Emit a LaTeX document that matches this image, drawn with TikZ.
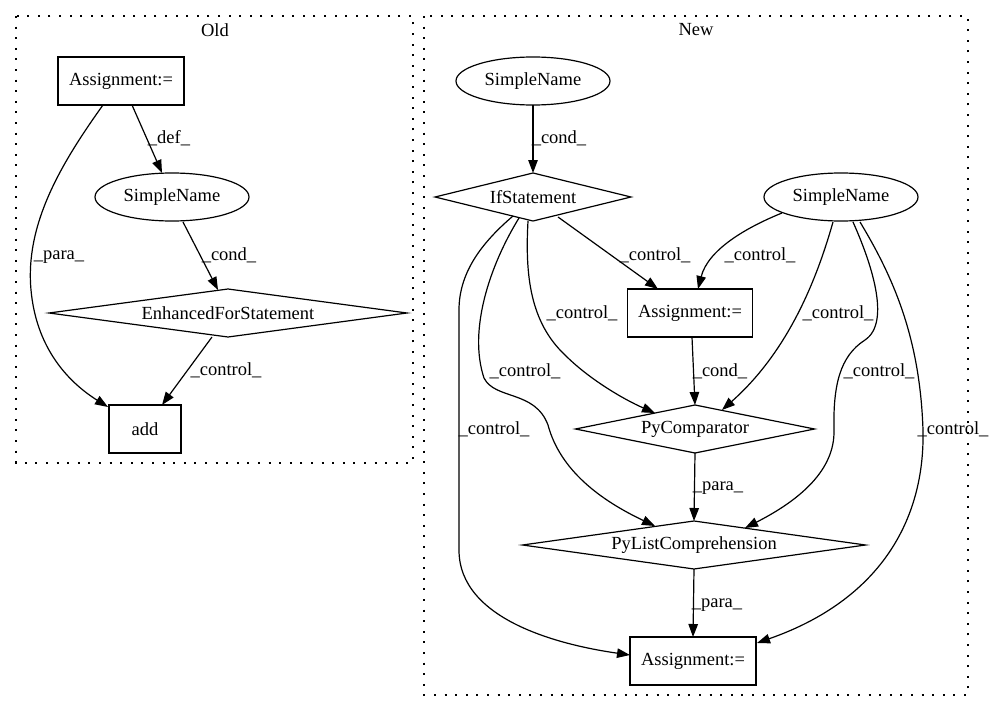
\documentclass[tikz,border=0pt]{standalone}
\usepackage{fontspec}
\setmainfont{Liberation Serif}
\usetikzlibrary{shapes.geometric,arrows.meta}
\tikzset{
  every node/.style={font=\fontsize{18.5}{22}\selectfont, inner sep=0pt, outer sep=0pt},
  boxnode/.style={draw, line width=1.2pt, rectangle, minimum height=48pt},
  ellnode/.style={draw, line width=1.2pt, ellipse, minimum width=154pt, minimum height=48pt},
  dianode/.style={draw, line width=1.2pt, diamond, minimum height=48pt},
  edge/.style={line width=1.2pt, -{Triangle[length=13pt,width=9.5pt]}},
  cluster/.style={line width=1.3pt, dash pattern=on 2pt off 8.6pt},
  lbl/.style={}
}
\begin{document}
\begin{tikzpicture}[x=1pt,y=-1pt]
\useasboundingbox (0,0) rectangle (997,712);
% clusters
\draw[cluster] (16,16) rectangle (413,463);
\node[lbl] (oldlbl) at (215,30) {Old};
\draw[cluster] (424,16) rectangle (968,695);
\node[lbl] (newlbl) at (696,30) {New};

% Old nodes
\node[boxnode, minimum width=126pt] (oa) at (121,81) {Assignment:=};
\node[ellnode] (osn) at (172,197) {SimpleName};
\node[dianode, minimum width=358pt, aspect=7.5] (oefs) at (228,313) {EnhancedForStatement};
\node[boxnode, minimum width=72pt] (oadd) at (145,429) {add};

% Old edges
\draw[edge] ([shift={(11,24)}]oa.center) -- ([shift={(-10,-24)}]osn.center);
\node[lbl] (ldef) at (169,138) {\_def\_};
\draw[edge] ([shift={(-18,24)}]oa.center) .. controls (60,165) and (25,225) .. (31,290)
  .. controls (36,345) and (65,380) .. ([shift={(-37,-22)}]oadd.center);
\node[lbl] (lpara) at (59,257) {\_para\_};
\draw[edge] ([shift={(11,25)}]osn.center) -- ([shift={(-10,-23)}]oefs.center);
\node[lbl] (lcond) at (229,255) {\_cond\_};
\draw[edge] ([shift={(-16,24)}]oefs.center) -- ([shift={(17,-24)}]oadd.center);
\node[lbl] (lctl) at (226,370) {\_control\_};

% New nodes
\node[ellnode] (nsn1) at (533,81) {SimpleName};
\node[dianode, minimum width=196pt, aspect=4.08] (nif) at (533,197) {IfStatement};
\node[ellnode] (nsn2) at (841,197) {SimpleName};
\node[boxnode, minimum width=125pt] (nma) at (690,313) {Assignment:=};
\node[dianode, minimum width=239pt, aspect=5] (npc) at (695,429) {PyComparator};
\node[dianode, minimum width=343pt, aspect=7.1] (nplc) at (694,545) {PyListComprehension};
\node[boxnode, minimum width=126pt] (nba) at (693,661) {Assignment:=};

% New edges
\draw[edge] (nsn1.south) -- (nif.north);
\node[lbl] (ncond1) at (559,138) {\_cond\_};

% IfStatement -> bottom Assignment
\draw[edge] ([shift={(-20,19)}]nif.center) .. controls (485,240) and (459,270) .. (459,310)
  -- (459,550) .. controls (459,620) and (560,645) .. ([shift={(-63,-6)}]nba.center);
\node[lbl] (nl1) at (494,429) {\_control\_};
% IfStatement -> PyListComprehension
\draw[edge] ([shift={(-14,21)}]nif.center) .. controls (490,265) and (468,330) .. (484,378)
  .. controls (495,400) and (535,390) .. (548,425)
  .. controls (560,470) and (600,500) .. ([shift={(-39,-19)}]nplc.center);
\node[lbl] (nl2) at (525,371) {\_control\_};
% IfStatement -> PyComparator
\draw[edge] ([shift={(-5,24)}]nif.center) .. controls (525,275) and (530,322) .. (565,355)
  .. controls (590,380) and (625,400) .. ([shift={(-40,-16)}]npc.center);
\node[lbl] (nl3) at (582,313) {\_control\_};
% IfStatement -> mid Assignment
\draw[edge] ([shift={(25,20)}]nif.center) -- ([shift={(-32,-24)}]nma.center);
\node[lbl] (nl4) at (655,255) {\_control\_};

% SimpleName2 -> mid Assignment
\draw[edge] ([shift={(-59,16)}]nsn2.center) .. controls (745,228) and (708,250) .. ([shift={(8,-24)}]nma.center);
\node[lbl] (nl5) at (760,255) {\_control\_};
% SimpleName2 -> PyComparator
\draw[edge] ([shift={(-8,25)}]nsn2.center) .. controls (818,275) and (790,350) .. ([shift={(27,-19)}]npc.center);
\node[lbl] (nl6) at (838,313) {\_control\_};
% SimpleName2 -> PyListComprehension
\draw[edge] ([shift={(12,25)}]nsn2.center) .. controls (870,260) and (892,322) .. (865,340)
  .. controls (840,356) and (833,385) .. (834,430)
  .. controls (835,470) and (800,500) .. ([shift={(51,-17)}]nplc.center);
\node[lbl] (nl7) at (879,371) {\_control\_};
% SimpleName2 -> bottom Assignment
\draw[edge] ([shift={(19,25)}]nsn2.center) .. controls (895,280) and (920,340) .. (923,430)
  .. controls (925,520) and (880,600) .. ([shift={(64,-18)}]nba.center);
\node[lbl] (nl8) at (953,429) {\_control\_};

% mid Assignment -> PyComparator
\draw[edge] ([shift={(2,24)}]nma.center) -- (npc.north);
\node[lbl] (ncond2) at (720,371) {\_cond\_};
% PyComparator -> PyListComprehension
\draw[edge] (npc.south) -- (nplc.north);
\node[lbl] (npara1) at (718,488) {\_para\_};
% PyListComprehension -> bottom Assignment
\draw[edge] (nplc.south) -- (nba.north);
\node[lbl] (npara2) at (717,605) {\_para\_};
\end{tikzpicture}
\end{document}
